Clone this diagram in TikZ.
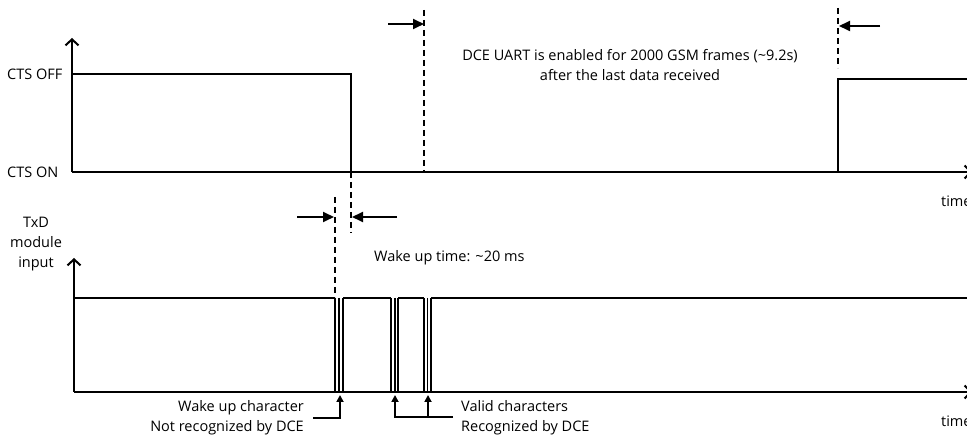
\documentclass[tikz,border=0pt]{standalone}
\usepackage{fontspec}
\setmainfont{Open Sans}
\usetikzlibrary{arrows.meta}

\tikzset{
  axis/.style={line width=2pt, -{Straight Barb[length=6pt,width=13pt,line width=2pt]}},
  sig/.style={line width=1.8pt},
  marker/.style={line width=1.6pt, dash pattern=on 6pt off 4pt},
  span/.style={line width=1.8pt, -{Triangle[length=11pt,width=10pt]}},
  point/.style={line width=1.8pt, -{Triangle[length=7pt,width=7pt]}},
  lbl/.style={inner sep=0pt, font=\fontsize{14.5}{20}\selectfont}
}

\begin{document}
\begin{tikzpicture}[x=1pt, y=-1pt]
  \useasboundingbox (0,0) rectangle (967,435);
  \clip (0,0) rectangle (967,435);
  % CTS chart
  \draw[axis] (72,172) -- (72,38);
  \draw[axis] (72,172) -- (972,172);
  \draw[sig] (72,74) -- (351,74) -- (351,172);
  \draw[sig] (838,172) -- (838,79) -- (967,79);
  \node[lbl, anchor=west] (ctsoff) at (7,74) {CTS OFF};
  \node[lbl, anchor=west] (ctson) at (7,172) {CTS ON};
  \node[lbl, anchor=west] (timetop) at (941,201) {time};
  % UART enable window
  \draw[marker] (424,10) -- (424,172);
  \draw[marker] (838,8) -- (838,68);
  \coordinate (winL) at (424,24);
  \coordinate (winR) at (839,26);
  \draw[span] (388,24) -- (winL);
  \draw[span] (880,26) -- (winR);
  \node[lbl, align=center] (uartnote) at (630,65)
    {DCE UART is enabled for 2000 GSM frames (\textasciitilde 9.2s)\\after the last data received};
  % Wake up time
  \draw[marker] (335,197) -- (335,297);
  \draw[marker] (351,172) -- (351,233);
  \coordinate (wakeL) at (334,217);
  \coordinate (wakeR) at (352,217);
  \draw[span] (297,217) -- (wakeL);
  \draw[span] (397,217) -- (wakeR);
  \node[lbl, anchor=west] (wakenote) at (374,258) {Wake up time: \textasciitilde 20 ms};
  % TxD chart
  \draw[axis] (74,392) -- (74,258);
  \draw[axis] (74,392) -- (972,392);
  \node[lbl, align=center] (txdlabel) at (36,244) {TxD\\module\\input};
  \node[lbl, anchor=west] (timebot) at (941,421) {time};
  \draw[sig] (74,298) -- (335,298);
  \draw[sig] (343,298) -- (391,298);
  \draw[sig] (398,298) -- (424,298);
  \draw[sig] (431,298) -- (967,298);
  \foreach \a/\b/\c in {335/339/343, 391/395/398, 424/427.5/431} {
    \draw[line width=1.3pt] (\a,298) -- (\a,392);
    \draw[line width=1.3pt] (\b,298) -- (\b,392);
    \draw[line width=1.3pt] (\c,298) -- (\c,392);
  }
  % character callouts
  \coordinate (wakechr) at (340,395);
  \coordinate (valid1) at (395,395);
  \coordinate (valid2) at (428,395);
  \node[lbl, align=right, anchor=east] (wakechar) at (304,418)
    {Wake up character\\Not recognized by DCE};
  \node[lbl, align=left, anchor=west] (validchar) at (461,418)
    {Valid characters\\Recognized by DCE};
  \draw[point] (313,418) -| (wakechr);
  \draw[point] (453,417) -| (valid1);
  \draw[point] (428,417) -- (valid2);
\end{tikzpicture}
\end{document}
